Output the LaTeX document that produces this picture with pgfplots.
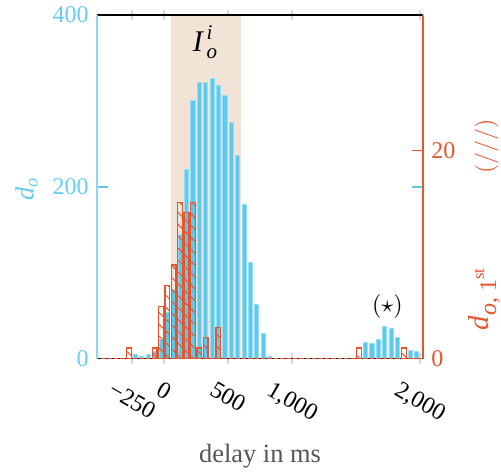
\documentclass[border=0pt]{standalone}
\usepackage{amsmath}
\usepackage{fontspec}
\setmainfont{Liberation Serif}
\usepackage{graphicx}
\usepackage{pgfplots}
\usepackage{pgfplotstable}
\pgfplotsset{compat=1.18}
\usetikzlibrary{patterns.meta}

\definecolor{cblue}{RGB}{93,201,236}
\definecolor{cblueedge}{RGB}{150,222,245}
\definecolor{cblueaxis}{RGB}{140,215,242}
\definecolor{cbluetext}{RGB}{100,205,240}
\definecolor{corange}{RGB}{232,85,45}
\definecolor{cbeige}{RGB}{241,228,215}
\definecolor{xlab}{RGB}{85,85,85}

\pgfplotstableread{
x y
-475 0
-425 0
-375 0
-325 0
-275 0
-225 5
-175 3
-125 5
-75 8
-25 22
25 54
75 80
125 145
175 220
225 301
275 322
325 322
375 326
425 318
475 306
525 275
575 237
625 180
675 112
725 63
775 29
825 3
875 0
925 0
975 0
1025 0
1075 0
1125 0
1175 0
1225 0
1275 0
1325 0
1375 0
1425 0
1475 0
1525 0
1575 19
1625 18
1675 22
1725 37
1775 35
1825 25
1875 0
1925 9
1975 8
}\bluedata

\pgfplotstableread{
x y
-475 0
-425 0
-375 0
-325 0
-275 1
-225 0
-175 0
-125 0
-75 1
-25 5
25 7
75 9
125 15
175 14
225 15
275 1
325 2
375 0
425 3
475 0
525 0
575 0
625 0
675 0
725 0
775 0
825 0
875 0
925 0
975 0
1025 0
1075 0
1125 0
1175 0
1225 0
1275 0
1325 0
1375 0
1425 0
1475 0
1525 1
1575 0
1625 0
1675 0
1725 0
1775 0
1825 0
1875 1
1925 0
1975 0
}\orangedata

\begin{document}
\begin{tikzpicture}
% axis C: faint centred x ticks
\begin{axis}[
  at={(0pt,0pt)}, anchor=south west,
  scale only axis, width=135.83pt, height=143.1pt,
  xmin=-525, xmax=2025, ymin=0, ymax=1,
  axis y line=none, axis x line*=box,
  x axis line style={draw=none},
  xtick={-250,0,500,1000,2000}, xticklabels={},
  tick align=center, major tick length=4.3pt,
  xtick style={black!15, line width=0.7pt},
]
\addplot[draw=none] coordinates {(0,0)};
\end{axis}

% axis A: d_o
\begin{axis}[
  at={(0pt,0pt)}, anchor=south west,
  scale only axis, width=135.83pt, height=143.1pt,
  xmin=-525, xmax=2025, ymin=0, ymax=400,
  clip=false, axis on top,
  separate axis lines,
  every outer x axis line/.append style={black, line width=0.8pt},
  every outer y axis line/.append style={cblueaxis, line width=0.6pt},
  tick align=inside, major tick length=4.6pt,
  xtick={-250,0,500,1000,2000},
  xticklabels={{\rotatebox{-30}{−250}},{\rotatebox{-30}{0}},{\rotatebox{-30}{500}},{\rotatebox{-30}{1,000}},{\rotatebox{-30}{2,000}}},
  xtick style={draw=none},
  xticklabel style={anchor=north, yshift=-5.7pt},
  ytick={0,200,400},
  yticklabel pos=left,
  ytick style={cblue, line width=0.6pt},
  yticklabel style={text=cbluetext},
  /pgf/number format/assume math mode=true,
  ylabel={$\textit{d}_{\textit{o}}$},
  ylabel style={at={(axis description cs:-0.216,0.495)}, anchor=center, text=cbluetext, font=\fontsize{11}{13}\selectfont},
  xlabel={delay in ms},
  xlabel style={at={(axis description cs:0.5,-0.2838)}, anchor=center, text=xlab, font=\fontsize{11}{13}\selectfont},
]
\addplot[draw=none, fill=cbeige] coordinates {(50,0) (50,400) (600,400) (600,0)};
\addplot[ybar, bar width=32, bar shift=0pt, fill=cblue, draw=cblueedge, line width=0.3pt] table[x=x,y=y] {\bluedata};
\node[font=\fontsize{12.5}{14}\selectfont] at (axis cs:325,368) {$\textit{I}^{\,\textit{i}}_{\,\textit{o}}$};
\node at (axis cs:1746,61) {$(\star)$};
\end{axis}

% axis B: d_o,1st
\begin{axis}[
  at={(0pt,0pt)}, anchor=south west,
  scale only axis, width=135.83pt, height=143.1pt,
  xmin=-525, xmax=2025, ymin=0, ymax=33,
  clip=false,
  axis x line=none, axis y line*=right,
  y axis line style={corange, line width=0.5pt},
  tick align=inside, major tick length=4.6pt,
  ytick={0,20},
  ytick style={corange, line width=0.6pt},
  yticklabel style={text=corange},
  /pgf/number format/assume math mode=true,
]
\addplot[ybar, bar width=37, bar shift=0pt, draw=corange, line width=0.55pt,
  pattern={Lines[angle=-45, distance=3.5pt, line width=0.4pt]}, pattern color=corange]
  table[x=x,y=y] {\orangedata};
\node[rotate=90, anchor=west, text=corange, font=\fontsize{12}{14}\selectfont, inner sep=1pt] at (rel axis cs:1.188,0.0742) {\textit{d}\raisebox{-0.25em}{\fontsize{10}{12}\selectfont\textit{o}, 1\raisebox{0.5em}{\fontsize{7}{8}\selectfont st}}};
\node[rotate=90, anchor=center, text=corange, inner sep=1pt] at (rel axis cs:1.195,0.617) {$(///)$};
\end{axis}

\pgfresetboundingbox
\path[use as bounding box] (-40.42pt,-48.13pt) rectangle (168.33pt,149.38pt);
\end{tikzpicture}
\end{document}
